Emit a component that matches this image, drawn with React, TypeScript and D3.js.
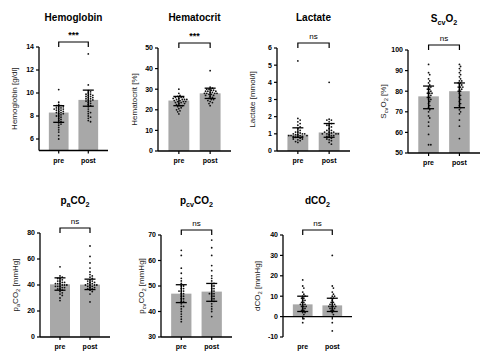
import React from "react";
import * as d3 from "d3";

const GROUPS = ["pre", "post"];

// Hemoglobin [g/dl]
const HB_PRE = [10.3, 9.2, 9.0, 8.9, 8.9, 8.8, 8.8, 8.7, 8.7, 8.6, 8.6, 8.6, 8.5, 8.5, 8.4, 8.4, 8.3, 8.3, 8.2, 8.2, 8.1, 8.0, 8.0, 7.9, 7.8, 7.7, 7.6, 7.5, 7.4, 7.3, 7.2, 7.0, 6.8, 6.6, 6.3, 6.0];
const HB_POST = [13.4, 10.7, 10.2, 10.1, 10.0, 9.9, 9.9, 9.8, 9.8, 9.7, 9.7, 9.6, 9.6, 9.5, 9.5, 9.4, 9.4, 9.3, 9.3, 9.2, 9.1, 9.0, 8.9, 8.8, 8.6, 8.4, 8.3, 8.2, 8.0, 7.9, 7.8, 7.6, 7.5];
const HB_BAR = [8.3, 9.4];
const HB_LO = [7.45, 8.85];
const HB_HI = [8.9, 10.25];

// Hematocrit [%]
const HCT_PRE = [30, 28, 27, 26.5, 26, 26, 26, 25.5, 25.5, 25, 25, 25, 25, 24.5, 24.5, 24, 24, 24, 23.5, 23.5, 23, 23, 22.5, 22, 22, 21.5, 21, 20.5, 20, 19.5, 19, 18];
const HCT_POST = [39, 31, 30.5, 30, 30, 29.5, 29.5, 29, 29, 29, 28.5, 28.5, 28, 28, 28, 28, 27.5, 27.5, 27, 27, 26.5, 26, 25.5, 25, 25, 24.5, 24, 23.5, 23, 22];
const HCT_BAR = [24.5, 28];
const HCT_LO = [22, 25.5];
const HCT_HI = [26.5, 30.5];

// Lactate [mmol/l]
const LAC_PRE = [5.25, 1.9, 1.8, 1.7, 1.6, 1.5, 1.4, 1.3, 1.2, 1.1, 1.1, 1.05, 1.0, 1.0, 1.0, 0.95, 0.95, 0.9, 0.9, 0.9, 0.9, 0.85, 0.85, 0.8, 0.8, 0.75, 0.7, 0.7, 0.65, 0.6, 0.55, 0.5];
const LAC_POST = [4.0, 1.85, 1.8, 1.8, 1.7, 1.6, 1.5, 1.5, 1.4, 1.3, 1.2, 1.2, 1.1, 1.1, 1.1, 1.05, 1.0, 1.0, 1.0, 1.0, 0.95, 0.9, 0.9, 0.85, 0.8, 0.75, 0.7, 0.65, 0.6, 0.5, 0.4];
const LAC_BAR = [0.95, 1.08];
const LAC_LO = [0.8, 0.8];
const LAC_HI = [1.35, 1.6];

// ScvO2 [%]
const SCV_PRE = [93, 89, 88, 86, 85, 84, 83, 82, 82, 81, 81, 80, 80, 79, 79, 79, 78, 78, 77, 77, 76, 76, 75, 74, 73, 72, 71, 70, 68, 67, 65, 63, 59, 54, 54];
const SCV_POST = [93, 92, 91, 90, 89, 88, 87, 86, 85, 85, 84, 84, 83, 83, 82, 82, 82, 81, 81, 80, 80, 79, 78, 77, 76, 75, 74, 73, 72, 71, 70, 69, 66, 63, 57];
const SCV_BAR = [77.5, 80];
const SCV_LO = [71.5, 72];
const SCV_HI = [82.5, 84];

// paCO2 [mmHg]
const PA_PRE = [54, 47, 46, 45, 45, 44, 43, 43, 42, 42, 41, 41, 41, 40, 40, 40, 39, 39, 39, 38, 38, 37, 37, 36, 35, 34, 33, 32, 30, 28];
const PA_POST = [70, 62, 57, 53, 50, 48, 47, 46, 45, 44, 43, 43, 42, 42, 41, 41, 40, 40, 40, 40, 39, 39, 38, 38, 37, 37, 36, 35, 33, 27];
const PA_BAR = [40.5, 40.3];
const PA_LO = [36, 36.5];
const PA_HI = [45.5, 44.5];

// pcvCO2 [mmHg]
const PCV_PRE = [64, 62, 57, 55, 53, 52, 51, 50, 50, 49, 49, 48, 48, 48, 47, 47, 46, 46, 45, 45, 44, 44, 43, 42, 42, 41, 40, 39, 38, 37, 36];
const PCV_POST = [68, 65, 62, 58, 56, 54, 53, 52, 51, 51, 50, 50, 49, 49, 48, 48, 47, 47, 47, 46, 46, 45, 45, 44, 44, 43, 42, 41, 40, 38];
const PCV_BAR = [47, 47.8];
const PCV_LO = [43.5, 44];
const PCV_HI = [50.5, 51];

// dCO2 [mmHg]
const D_PRE = [18, 15, 14, 12, 11, 10, 10, 9, 9, 8, 8, 7, 7, 6, 6, 6, 5, 5, 5, 4, 4, 3, 3, 2, 2, 1, 0, -1, -3];
const D_POST = [30, 15, 14, 12, 11, 10, 10, 9, 9, 8, 7, 7, 6, 6, 6, 5, 5, 5, 5, 4, 4, 4, 3, 3, 2, 1, -3, -7];
const D_BAR = [6, 5.5];
const D_LO = [2.5, 2.5];
const D_HI = [10, 9];

type Seg = { t: string; sub?: boolean };

const FONT = "'Liberation Sans', Arial, sans-serif";

function Rich({ segs, size }: { segs: Seg[]; size: number }) {
  const out: any[] = [];
  let inSub = false;
  segs.forEach((s, i) => {
    const dy = s.sub && !inSub ? size * 0.3 : !s.sub && inSub ? -size * 0.3 : 0;
    inSub = !!s.sub;
    out.push(
      <tspan key={i} dy={dy} fontSize={s.sub ? size * 0.72 : size}>
        {s.t}
      </tspan>
    );
  });
  return <>{out}</>;
}

function swarm(vals: number[], y: d3.ScaleLinear<number, number>, cx: number, r: number, maxHalf: number) {
  const placed: { x: number; y: number }[] = [];
  const sorted = [...vals].sort((a, b) => b - a);
  const minD = r * 2.3;
  for (const v of sorted) {
    const py = y(v);
    let found = cx;
    for (let k = 0; k < 40; k++) {
      const off = k === 0 ? 0 : Math.ceil(k / 2) * minD * 0.55 * (k % 2 ? 1 : -1);
      const px = cx + Math.max(-maxHalf, Math.min(maxHalf, off));
      if (placed.every((p) => (p.x - px) ** 2 + (p.y - py) ** 2 >= minD * minD)) {
        found = px;
        break;
      }
      found = px;
    }
    placed.push({ x: found, y: py });
  }
  return placed;
}

type PanelProps = {
  title: Seg[];
  ylabel: Seg[];
  x0: number;
  x1: number;
  yTop: number;
  yBot: number;
  domain: [number, number];
  ticks: number[];
  pre: number[];
  post: number[];
  bar: number[];
  lo: number[];
  hi: number[];
  sig: string;
  titleY: number;
  labelX: number;
  xAxisAt?: number;
};

function Panel(p: PanelProps) {
  const y = d3.scaleLinear().domain(p.domain).range([p.yBot, p.yTop]);
  const x = d3.scaleBand().domain(GROUPS).range([p.x0, p.x1]).paddingInner(1 / 3).paddingOuter(1 / 3);
  const bw = x.bandwidth();
  const baseV = p.xAxisAt !== undefined ? p.xAxisAt : p.domain[0];
  const axisY = y(baseV);
  const series = [p.pre, p.post];
  const cxs = GROUPS.map((g) => (x(g) as number) + bw / 2);
  const bY = p.yTop - 5;
  const cx = (p.x0 + p.x1) / 2;
  const ymid = (p.yTop + p.yBot) / 2;
  return (
    <g fontFamily={FONT}>
      <text x={cx} y={p.titleY} textAnchor="middle" fontWeight="bold" fontSize={10}>
        <Rich segs={p.title} size={10} />
      </text>
      <text transform={`translate(${p.labelX},${ymid}) rotate(-90)`} textAnchor="middle" fontSize={8} fill="#222">
        <Rich segs={p.ylabel} size={8} />
      </text>
      {GROUPS.map((g, i) => (
        <rect key={g} x={x(g)} width={bw} y={Math.min(y(p.bar[i]), axisY)} height={Math.abs(axisY - y(p.bar[i]))} fill="#a8a8a8" />
      ))}
      {series.map((s, i) =>
        swarm(s, y, cxs[i], 0.9, bw / 2).map((pt, j) => <circle key={`${i}-${j}`} cx={pt.x} cy={pt.y} r={0.9} fill="#111" />)
      )}
      {GROUPS.map((g, i) => (
        <g key={g} stroke="#000" strokeWidth={1.3}>
          <line x1={cxs[i]} x2={cxs[i]} y1={y(p.lo[i])} y2={y(p.hi[i])} />
          <line x1={cxs[i] - 5.5} x2={cxs[i] + 5.5} y1={y(p.lo[i])} y2={y(p.lo[i])} />
          <line x1={cxs[i] - 5.5} x2={cxs[i] + 5.5} y1={y(p.hi[i])} y2={y(p.hi[i])} />
        </g>
      ))}
      <line x1={p.x0} x2={p.x0} y1={p.yTop} y2={p.yBot} stroke="#000" strokeWidth={1.3} />
      {p.ticks.map((t) => (
        <g key={t}>
          <line x1={p.x0 - 3} x2={p.x0} y1={y(t)} y2={y(t)} stroke="#000" strokeWidth={1.2} />
          <text x={p.x0 - 5} y={y(t)} dy="0.35em" textAnchor="end" fontSize={7} fontWeight="bold">
            {t}
          </text>
        </g>
      ))}
      <line x1={p.x0} x2={p.x1} y1={axisY} y2={axisY} stroke="#000" strokeWidth={1.3} />
      {GROUPS.map((g, i) => (
        <g key={g}>
          <line x1={cxs[i]} x2={cxs[i]} y1={axisY} y2={axisY + 3} stroke="#000" strokeWidth={1.2} />
          <text x={cxs[i]} y={p.yBot + 12} textAnchor="middle" fontSize={7} fontWeight="bold">
            {g}
          </text>
        </g>
      ))}
      <path d={`M${cxs[0]},${bY + 5}V${bY}H${cxs[1]}V${bY + 5}`} fill="none" stroke="#000" strokeWidth={1.2} />
      <text x={(cxs[0] + cxs[1]) / 2} y={bY - 4} textAnchor="middle" fontSize={p.sig === "ns" ? 8 : 9} fontWeight={p.sig === "ns" ? "normal" : "bold"}>
        {p.sig}
      </text>
    </g>
  );
}

export default function App() {
  return (
    <svg width={482} height={355} style={{ display: "block", position: "absolute", left: 0, top: 0, background: "#fff" }}>
      <Panel title={[{ t: "Hemoglobin" }]} ylabel={[{ t: "Hemoglobin [g/dl]" }]} x0={39} x1={108} yTop={47} yBot={150.5} domain={[5, 14]} ticks={[6, 8, 10, 12, 14]} pre={HB_PRE} post={HB_POST} bar={HB_BAR} lo={HB_LO} hi={HB_HI} sig="***" titleY={21} labelX={17} />
      <Panel title={[{ t: "Hematocrit" }]} ylabel={[{ t: "Hematocrit [%]" }]} x0={158} x1={231} yTop={48} yBot={151} domain={[0, 50]} ticks={[0, 10, 20, 30, 40, 50]} pre={HCT_PRE} post={HCT_POST} bar={HCT_BAR} lo={HCT_LO} hi={HCT_HI} sig="***" titleY={21} labelX={137} />
      <Panel title={[{ t: "Lactate" }]} ylabel={[{ t: "Lactate [mmol/l]" }]} x0={277} x1={350} yTop={48} yBot={151} domain={[0, 6]} ticks={[0, 1, 2, 3, 4, 5, 6]} pre={LAC_PRE} post={LAC_POST} bar={LAC_BAR} lo={LAC_LO} hi={LAC_HI} sig="ns" titleY={21} labelX={255} />
      <Panel title={[{ t: "S" }, { t: "cv", sub: true }, { t: "O" }, { t: "2", sub: true }]} ylabel={[{ t: "S" }, { t: "cv", sub: true }, { t: "O" }, { t: "2", sub: true }, { t: " [%]" }]} x0={408} x1={480} yTop={50} yBot={153} domain={[50, 100]} ticks={[50, 60, 70, 80, 90, 100]} pre={SCV_PRE} post={SCV_POST} bar={SCV_BAR} lo={SCV_LO} hi={SCV_HI} sig="ns" titleY={22} labelX={386} />
      <Panel title={[{ t: "p" }, { t: "a", sub: true }, { t: "CO" }, { t: "2", sub: true }]} ylabel={[{ t: "p" }, { t: "a", sub: true }, { t: "CO" }, { t: "2", sub: true }, { t: " [mmHg]" }]} x0={40} x1={110} yTop={233} yBot={337} domain={[0, 80]} ticks={[0, 20, 40, 60, 80]} pre={PA_PRE} post={PA_POST} bar={PA_BAR} lo={PA_LO} hi={PA_HI} sig="ns" titleY={204} labelX={18} />
      <Panel title={[{ t: "p" }, { t: "cv", sub: true }, { t: "CO" }, { t: "2", sub: true }]} ylabel={[{ t: "p" }, { t: "cv", sub: true }, { t: "CO" }, { t: "2", sub: true }, { t: " [mmHg]" }]} x0={161} x1={232} yTop={235} yBot={337} domain={[30, 70]} ticks={[30, 40, 50, 60, 70]} pre={PCV_PRE} post={PCV_POST} bar={PCV_BAR} lo={PCV_LO} hi={PCV_HI} sig="ns" titleY={204} labelX={144} />
      <Panel title={[{ t: "dCO" }, { t: "2", sub: true }]} ylabel={[{ t: "dCO" }, { t: "2", sub: true }, { t: " [mmHg]" }]} x0={283} x1={352} yTop={235} yBot={337} domain={[-10, 40]} ticks={[-10, 0, 10, 20, 30, 40]} pre={D_PRE} post={D_POST} bar={D_BAR} lo={D_LO} hi={D_HI} sig="ns" titleY={204} labelX={260} xAxisAt={0} />
    </svg>
  );
}
